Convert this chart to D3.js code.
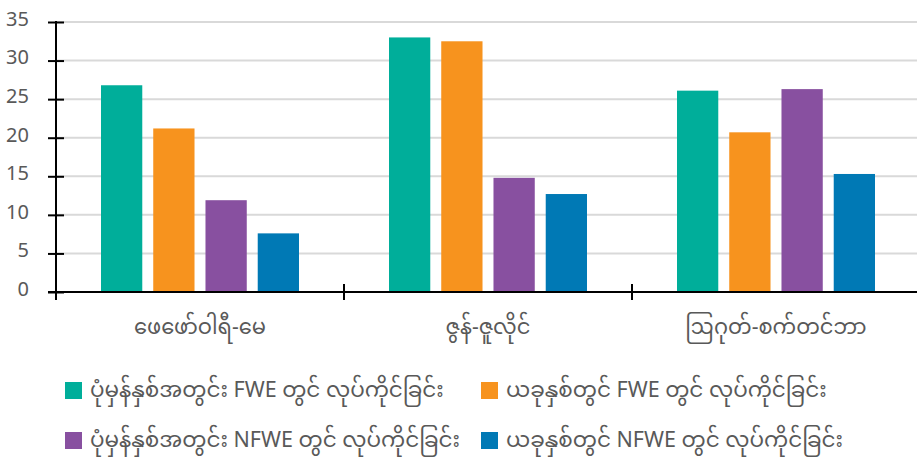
<!DOCTYPE html>
<html>
<head>
<meta charset="utf-8">
<script src="https://cdn.jsdelivr.net/npm/d3@7"></script>
<style>
  body { margin: 0; background: #fff; }
  text { font-family: "Noto Sans Myanmar", "Padauk", "Myanmar Text", "Noto Sans", sans-serif; fill: #595959; }
  .tick text { font-family: "Noto Sans", sans-serif; }
</style>
</head>
<body>
<div id="chart"></div>
<script>
// data
var regions = ["ဖေဖော်ဝါရီ-မေ", "ဇွန်-ဇူလိုင်", "ဩဂုတ်-စက်တင်ဘာ"];
var seriesNames = [
  "ပုံမှန်နှစ်အတွင်း FWE တွင် လုပ်ကိုင်ခြင်း",
  "ယခုနှစ်တွင် FWE တွင် လုပ်ကိုင်ခြင်း",
  "ပုံမှန်နှစ်အတွင်း NFWE တွင် လုပ်ကိုင်ခြင်း",
  "ယခုနှစ်တွင် NFWE တွင် လုပ်ကိုင်ခြင်း"
];
var normalFWE  = [26.8, 33.0, 26.1];
var currentFWE = [21.2, 32.5, 20.7];
var normalNFWE = [11.9, 14.8, 26.3];
var currentNFWE = [7.6, 12.7, 15.3];
var yTicks = [0, 5, 10, 15, 20, 25, 30, 35];
var colors = ["#00ae9a", "#f7931e", "#8850a0", "#0079b5"];

var series = [normalFWE, currentFWE, normalNFWE, currentNFWE];

var width = 917, height = 457;
var margin = {top: 22, left: 56, bottom: 165};
var plotRight = 920;
var y0 = height - margin.bottom; // 292

var svg = d3.select("#chart").append("svg")
    .attr("width", width)
    .attr("height", height);

var x = d3.scaleBand().domain(regions).range([margin.left, plotRight]);
var xInner = d3.scaleBand().domain(d3.range(series.length))
    .range([45, x.bandwidth() - 45]).paddingInner(0.21).paddingOuter(0);
var y = d3.scaleLinear().domain([0, 35]).range([y0, margin.top]);

// gridlines
svg.append("g")
  .selectAll("line")
  .data(yTicks.slice(1))
  .enter().append("line")
    .attr("x1", margin.left)
    .attr("x2", width)
    .attr("y1", function(d) { return y(d); })
    .attr("y2", function(d) { return y(d); })
    .attr("stroke", "#d9d9d9")
    .attr("stroke-width", 2);

// bars
var groups = svg.append("g")
  .selectAll("g")
  .data(regions)
  .enter().append("g")
    .attr("transform", function(d) { return "translate(" + x(d) + ",0)"; });

groups.selectAll("rect")
  .data(function(d, i) { return series.map(function(s, j) { return {k: j, v: s[i]}; }); })
  .enter().append("rect")
    .attr("x", function(d) { return xInner(d.k); })
    .attr("width", xInner.bandwidth())
    .attr("y", function(d) { return y(d.v); })
    .attr("height", function(d) { return y0 - y(d.v); })
    .attr("fill", function(d) { return colors[d.k]; });

// y axis
var yAxis = d3.axisLeft(y).tickValues(yTicks).tickSizeInner(8).tickSizeOuter(0);
var gy = svg.append("g")
    .attr("transform", "translate(" + margin.left + ",0)")
    .call(yAxis);
gy.select(".domain").remove();
gy.selectAll(".tick line").attr("x1", -8).attr("x2", 8).attr("stroke", "#000").attr("stroke-width", 2);
gy.selectAll(".tick text")
    .style("font-size", "20px")
    .attr("x", -27)
    .attr("y", -3)
    .attr("fill", "#595959");
gy.append("line")
    .attr("x1", 0).attr("x2", 0)
    .attr("y1", margin.top - 1).attr("y2", y0 + 8)
    .attr("stroke", "#000").attr("stroke-width", 2);

// x axis
var gx = svg.append("g")
    .attr("transform", "translate(0," + y0 + ")");
gx.append("line")
    .attr("x1", margin.left - 8).attr("x2", width)
    .attr("stroke", "#000").attr("stroke-width", 2);
gx.selectAll(".sep")
  .data(regions.slice(1))
  .enter().append("line")
    .attr("class", "sep")
    .attr("x1", function(d) { return x(d); })
    .attr("x2", function(d) { return x(d); })
    .attr("y1", -8).attr("y2", 8)
    .attr("stroke", "#000").attr("stroke-width", 2);
gx.selectAll(".lbl")
  .data(regions)
  .enter().append("text")
    .attr("class", "lbl")
    .attr("x", function(d) { return x(d) + x.bandwidth() / 2; })
    .attr("y", 42)
    .attr("text-anchor", "middle")
    .style("font-size", "21px")
    .text(function(d) { return d; });

// legend
var legendPos = [[65, 382], [481, 382], [65, 432], [481, 432]];
var legend = svg.append("g")
  .selectAll("g")
  .data(seriesNames)
  .enter().append("g")
    .attr("transform", function(d, i) { return "translate(" + legendPos[i][0] + "," + legendPos[i][1] + ")"; });
legend.append("rect")
    .attr("width", 17).attr("height", 17)
    .attr("fill", function(d, i) { return colors[i]; });
legend.append("text")
    .attr("x", 25)
    .attr("y", 15)
    .style("font-size", "21.5px")
    .text(function(d) { return d; });
</script>
</body>
</html>
